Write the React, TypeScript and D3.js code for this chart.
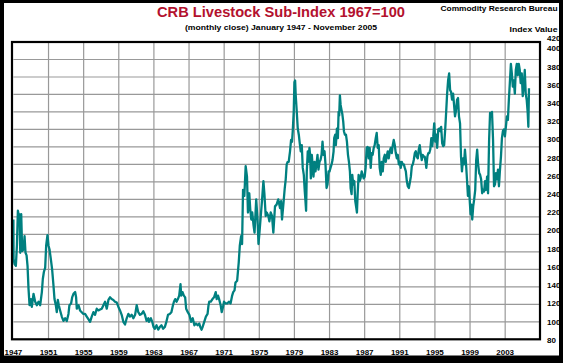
import { useRef, useEffect } from "react";
import * as d3 from "d3";

// monthly close (decimal years)
const dates = [
  1947.00,1947.02,1947.13,1947.28,1947.40,1947.51,1947.63,1947.70,1947.78,1947.89,
  1948.00,1948.16,1948.27,1948.38,1948.50,1948.61,1948.72,1948.84,1948.99,1949.10,
  1949.29,1949.48,1949.67,1949.86,1950.05,1950.24,1950.35,1950.47,1950.62,1950.73,
  1950.88,1951.00,1951.11,1951.26,1951.41,1951.56,1951.68,1951.83,1951.94,1952.06,
  1952.17,1952.32,1952.51,1952.70,1952.89,1953.08,1953.27,1953.38,1953.57,1953.69,
  1953.84,1954.03,1954.14,1954.22,1954.41,1954.59,1954.78,1954.97,1955.16,1955.35,
  1955.54,1955.73,1955.92,1956.11,1956.30,1956.49,1956.68,1956.87,1957.06,1957.25,
  1957.44,1957.63,1957.82,1958.00,1958.19,1958.38,1958.57,1958.77,1958.96,1959.14,
  1959.33,1959.52,1959.71,1959.90,1960.09,1960.28,1960.47,1960.66,1960.86,1961.04,
  1961.22,1961.41,1961.60,1961.79,1961.98,1962.17,1962.36,
  1962.44,1962.66,1962.81,1962.96,1963.11,1963.30,1963.49,1963.67,1963.86,1964.05,
  1964.24,1964.42,1964.61,1964.80,1964.99,1965.17,1965.28,1965.43,1965.58,1965.73,
  1965.88,1966.03,1966.11,1966.26,1966.41,1966.56,1966.67,1966.86,1967.04,1967.23,
  1967.42,1967.61,1967.79,1967.98,1968.17,1968.28,1968.43,1968.54,1968.73,1968.92,
  1969.11,1969.22,1969.30,1969.48,1969.67,1969.85,1970.04,1970.15,1970.30,1970.45,
  1970.60,1970.72,1970.87,1970.98,1971.16,1971.35,1971.54,1971.73,1971.91,1972.03,
  1972.18,1972.29,1972.48,1972.66,1972.78,1972.93,1973.04,1973.15,1973.30,1973.45,
  1973.60,1973.71,1973.86,1973.97,1974.09,1974.20,1974.35,1974.46,1974.65,1974.80,
  1974.91,1975.02,1975.17,1975.32,1975.47,1975.58,1975.73,1975.85,1976.03,1976.15,
  1976.30,1976.45,1976.60,1976.79,1976.97,1977.16,
  1977.36,1977.48,1977.59,1977.74,1977.90,1978.01,1978.12,1978.24,1978.35,1978.50,
  1978.62,1978.73,1978.81,1978.92,1979.00,1979.08,1979.15,1979.27,1979.38,1979.50,
  1979.61,1979.72,1979.84,1979.95,1980.07,1980.18,1980.26,1980.33,1980.41,1980.52,
  1980.60,1980.71,1980.79,1980.87,1980.98,1981.10,1981.17,1981.29,1981.40,1981.51,
  1981.63,1981.74,1981.86,1981.97,1982.09,1982.20,1982.31,1982.43,1982.54,1982.66,
  1982.77,1982.89,1983.00,1983.11,1983.23,1983.34,1983.46,1983.53,1983.65,1983.72,
  1983.84,1983.95,1984.03,1984.10,1984.18,1984.26,1984.37,1984.45,1984.56,1984.64,
  1984.75,1984.87,1984.98,1985.10,1985.21,1985.32,1985.40,1985.51,1985.59,1985.70,
  1985.82,1985.93,1986.05,1986.12,1986.20,1986.31,1986.43,1986.54,1986.66,1986.77,
  1986.89,1987.00,1987.11,1987.23,1987.34,1987.46,1987.57,1987.69,1987.80,1987.91,
  1988.03,1988.14,1988.26,1988.37,1988.49,1988.60,1988.71,1988.83,1988.94,1989.06,
  1989.17,1989.29,1989.40,1989.51,1989.63,1989.74,1989.86,1989.97,1990.09,1990.20,
  1990.31,1990.43,1990.54,1990.66,1990.77,1990.89,1991.00,1991.11,1991.23,1991.34,
  1991.46,1991.57,1991.69,1991.80,1991.91,1992.03,
  1992.14,1992.26,1992.37,1992.48,1992.59,1992.71,1992.82,1992.93,1993.05,1993.16,
  1993.27,1993.38,1993.50,1993.61,1993.72,1993.83,1993.95,1994.02,1994.14,1994.25,
  1994.36,1994.47,1994.59,1994.70,1994.81,1994.92,1995.04,1995.15,1995.26,1995.38,
  1995.49,1995.60,1995.71,1995.83,1995.94,1996.05,1996.17,1996.28,1996.39,1996.50,
  1996.62,1996.73,1996.84,1996.95,1997.07,1997.18,1997.29,1997.41,1997.52,1997.63,
  1997.74,1997.86,1997.97,1998.08,1998.20,1998.31,1998.42,1998.53,1998.65,1998.76,
  1998.87,1998.98,1999.06,1999.14,1999.25,1999.36,1999.47,1999.59,1999.70,1999.81,
  1999.92,2000.04,2000.15,2000.26,2000.38,2000.49,2000.60,2000.71,2000.83,2000.94,
  2001.05,2001.17,2001.28,2001.39,2001.50,2001.62,2001.73,2001.84,2001.95,2002.07,
  2002.18,2002.29,2002.41,2002.52,2002.63,2002.74,2002.86,2002.97,2003.08,2003.20,
  2003.31,2003.42,2003.53,2003.65,2003.76,2003.87,2003.98,2004.10,2004.21,2004.32,
  2004.44,2004.55,2004.66,2004.77,2004.89,2005.00,2005.11,2005.23,2005.34,2005.45,
  2005.56,2005.64,2005.71,
];

const livestock = [
  217,172,166,164,187,227,221,223,179,223,
  181,183,198,179,176,164,138,119,126,117,
  132,123,119,123,119,134,149,157,162,187,
  199,187,183,172,160,142,126,119,111,125,
  119,113,106,101,104,101,109,119,121,128,
  132,134,128,115,119,113,111,109,109,106,
  103,100,106,111,108,115,113,114,115,119,
  123,115,125,128,126,125,123,122,117,113,
  108,100,97,104,109,106,108,104,108,119,
  111,108,109,112,108,101,104,
  100,104,100,94,92,96,91,94,96,92,
  94,100,108,109,111,119,123,126,123,126,
  130,143,130,134,130,128,115,111,108,100,
  104,96,98,96,98,94,91,94,100,106,
  109,119,123,123,126,128,134,126,130,125,
  119,111,117,123,121,121,123,121,130,134,
  136,145,147,168,187,198,189,251,244,278,
  266,225,247,229,217,225,210,202,240,217,
  189,202,221,240,261,247,221,225,221,215,
  225,221,202,232,234,240,
  230,238,217,234,253,263,280,283,283,295,
  308,306,318,340,374,376,359,340,321,314,
  304,295,302,276,268,249,238,227,272,295,
  283,299,291,264,291,276,266,283,272,280,
  291,274,283,285,291,306,291,295,280,253,
  257,272,272,276,280,285,295,310,314,302,
  321,310,340,336,359,348,342,338,329,318,
  314,314,306,291,283,272,253,246,268,257,
  261,238,230,225,246,268,261,264,272,268,
  264,266,276,299,300,287,299,276,293,291,
  299,302,310,316,299,302,276,268,283,272,
  287,291,283,289,295,287,295,299,293,302,
  308,302,293,287,291,280,283,276,283,280,
  280,276,272,261,255,253,
  259,266,278,280,285,293,295,289,287,297,
  302,293,285,291,289,289,282,276,289,293,
  293,297,310,301,312,327,306,314,299,320,
  321,318,323,304,301,302,320,340,361,376,
  384,365,363,354,361,348,335,342,354,356,
  335,327,289,272,287,280,297,283,263,244,
  255,236,223,234,217,232,240,251,285,297,
  280,270,268,263,247,251,249,261,251,266,
  247,308,339,337,340,308,255,257,270,263,
  274,255,274,289,310,318,320,312,323,335,
  331,354,373,395,384,369,376,361,388,395,
  382,395,388,373,384,358,369,388,361,354,
  340,323,367,
];

const yearTicks = [1947, 1951, 1955, 1959, 1963, 1967, 1971, 1975, 1979, 1983, 1987, 1991, 1995, 1999, 2003];
const valueTicks = [80, 100, 120, 140, 160, 180, 200, 220, 240, 260, 280, 300, 320, 340, 360, 380, 400, 420];

const title = "CRB Livestock Sub-Index 1967=100";
const subtitle = "(monthly close) January 1947 - November 2005";
const source = "Commodity Research Bureau";
const axisName = "Index Value";

const W = 563;
const H = 363;
const font = "'Liberation Sans', Arial, Helvetica, sans-serif";

export default function App() {
  const svgRef = useRef<SVGSVGElement | null>(null);

  useEffect(() => {
    const svg = d3.select(svgRef.current).html(null);

    const x = d3.scaleLinear().domain([1947, 2007]).range([13.4, 540.3]);
    const y = d3.scaleLinear().domain([80, 420]).range([339.3, 42]);
    // the value labels on the right sit on a slightly different spacing than the grid
    const labelY = d3.scaleLinear().domain([80, 400, 420]).range([340, 48.5, 38.5]);

    svg.append("rect").attr("width", W).attr("height", H).attr("fill", "#fff");

    // grid
    svg.append("g")
      .selectAll("line")
      .data(valueTicks.filter(v => v > 80 && v < 420))
      .join("line")
      .attr("x1", x(1947)).attr("x2", x(2007))
      .attr("y1", d => y(d)).attr("y2", d => y(d))
      .attr("stroke", "#999").attr("stroke-width", 1.2);

    svg.append("g")
      .selectAll("line")
      .data(yearTicks.filter(t => t > 1947))
      .join("line")
      .attr("x1", d => x(d)).attr("x2", d => x(d))
      .attr("y1", y(420)).attr("y2", y(80))
      .attr("stroke", "#999").attr("stroke-width", 1.2);

    // series
    const line = d3.line<number>()
      .x((_, i) => x(dates[i]))
      .y(d => y(d));

    svg.append("path")
      .datum(livestock)
      .attr("d", line)
      .attr("fill", "none")
      .attr("stroke", "#008080")
      .attr("stroke-width", 2.3)
      .attr("stroke-linejoin", "round");

    // plot frame
    svg.append("rect")
      .attr("x", 12).attr("y", y(420))
      .attr("width", 528).attr("height", y(80) - y(420))
      .attr("fill", "none").attr("stroke", "#000").attr("stroke-width", 2.2);

    // year labels
    svg.append("g")
      .selectAll("text")
      .data(yearTicks)
      .join("text")
      .attr("x", d => x(d))
      .attr("y", 355)
      .attr("text-anchor", "middle")
      .style("font", `bold 8px ${font}`)
      .text(d => d);

    // value labels
    svg.append("g")
      .selectAll("text")
      .data(valueTicks)
      .join("text")
      .attr("x", 547)
      .attr("y", d => labelY(d))
      .attr("dy", "0.35em")
      .style("font", `bold 8px ${font}`)
      .text(d => d);

    svg.append("text")
      .attr("x", 281).attr("y", 17)
      .attr("text-anchor", "middle")
      .attr("fill", "#b3112e")
      .attr("textLength", 248).attr("lengthAdjust", "spacingAndGlyphs")
      .style("font", `bold 15px ${font}`)
      .text(title);

    svg.append("text")
      .attr("x", 281).attr("y", 29.5)
      .attr("text-anchor", "middle")
      .attr("textLength", 192).attr("lengthAdjust", "spacingAndGlyphs")
      .style("font", `bold 8px ${font}`)
      .text(subtitle);

    svg.append("text")
      .attr("x", 557.5).attr("y", 10.5)
      .attr("text-anchor", "end")
      .attr("textLength", 117).attr("lengthAdjust", "spacingAndGlyphs")
      .style("font", `bold 8px ${font}`)
      .text(source);

    svg.append("text")
      .attr("x", 557.5).attr("y", 32.3)
      .attr("text-anchor", "end")
      .attr("textLength", 48).attr("lengthAdjust", "spacingAndGlyphs")
      .style("font", `bold 8px ${font}`)
      .text(axisName);

    // outer black border
    svg.append("path")
      .attr("d", `M0,0H${W}V${H}H0Z M4,3V355.5H559V3Z`)
      .attr("fill", "#000")
      .attr("fill-rule", "evenodd");
  }, []);

  return (
    <svg
      ref={svgRef}
      width={W}
      height={H}
      style={{ position: "absolute", left: 0, top: 0, display: "block" }}
    />
  );
}
